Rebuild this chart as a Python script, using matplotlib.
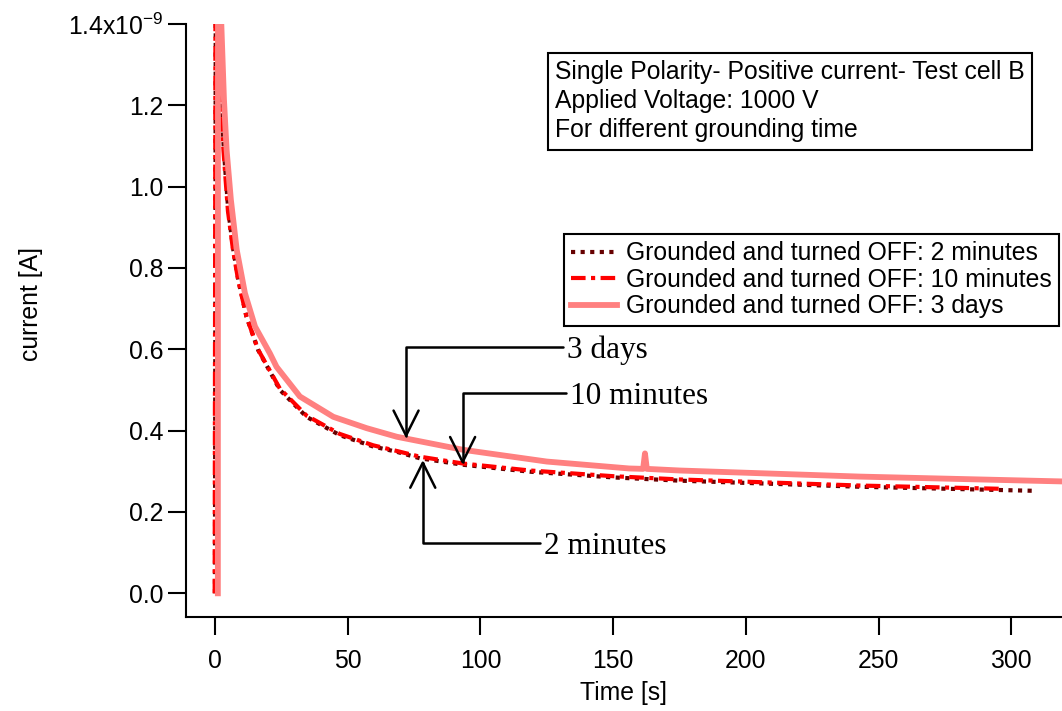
import matplotlib
matplotlib.use("Agg")
import matplotlib.pyplot as plt
from matplotlib.ticker import FuncFormatter

plt.rcParams['font.family'] = ['Liberation Sans', 'DejaVu Sans']
plt.rcParams['mathtext.default'] = 'regular'

# values, current in 1e-9 A
t_2min = [0.0, 0.3, 1.9, 2.4, 3.1, 3.8, 5.0, 6.9, 8.8, 11.9, 16.3, 24.5, 34.5, 47.0, 59.6, 68.5,
          77.2, 93.6, 118.7, 150, 175, 243, 309]
i_2min = [0.0, 1.45, 1.36, 1.22, 1.12, 1.05, 0.943, 0.845, 0.771, 0.68, 0.598, 0.50, 0.434, 0.389,
          0.361, 0.348, 0.332, 0.316, 0.299, 0.285, 0.277, 0.262, 0.252]

t_10min = [-0.1, 0.2, 1.8, 2.3, 3.0, 3.7, 4.9, 6.8, 8.7, 11.8, 16.2, 24.5, 34.5, 47.0, 59.6, 68.5,
           77.2, 93.6, 118.7, 150, 175, 243, 296]
i_10min = [0.0, 1.48, 1.34, 1.21, 1.11, 1.045, 0.94, 0.845, 0.772, 0.682, 0.600, 0.503, 0.437, 0.392,
           0.364, 0.35, 0.336, 0.319, 0.302, 0.288, 0.280, 0.265, 0.257]

t_3days = [1.1, 1.15, 1.6, 2.4, 3.4, 4.4, 6.0, 8.2, 11.3, 15.1, 20.7, 23.2, 32.0, 44.6, 57.2, 68.5,
           93.4, 125, 156, 161.3, 162.0, 162.7, 175, 243, 320]
i_3days = [0.0, 1.45, 1.5, 1.40, 1.214, 1.09, 0.968, 0.845, 0.738, 0.656, 0.59, 0.557, 0.484, 0.434,
           0.406, 0.385, 0.353, 0.324, 0.307, 0.306, 0.344, 0.306, 0.302, 0.287, 0.275]

labels = ['Grounded and turned OFF: 2 minutes',
          'Grounded and turned OFF: 10 minutes',
          'Grounded and turned OFF: 3 days']
y_ticks = [0.0, 0.2, 0.4, 0.6, 0.8, 1.0, 1.2, 1.4]

fs = 17.8

fig = plt.figure(figsize=(10.62, 7.11), dpi=100)
ax = fig.add_axes([186 / 1062, 1 - 617.3 / 711, 1 - 186 / 1062, (617.3 - 24) / 711])

ax.plot(t_2min, [v * 1e-9 for v in i_2min], color='#660000', lw=3,
        linestyle=(0, (1, 1.3)), label=labels[0])
ax.plot(t_10min, [v * 1e-9 for v in i_10min], color='#ff0000', lw=3,
        linestyle=(0, (3.5, 1.3, 1, 1.3)), label=labels[1])
ax.plot(t_3days, [v * 1e-9 for v in i_3days], color='#ff8080', lw=4.2,
        solid_joinstyle='round', label=labels[2])

ax.set_xlim(-10.9, 319.1)
ax.set_ylim(-0.059e-9, 1.4e-9)
ax.set_yticks([v * 1e-9 for v in y_ticks])


def yfmt(v, pos):
    if abs(v - 1.4e-9) < 1e-12:
        return '1.4x10$^{-9}$'
    return f'{v * 1e9:.1f}'


ax.yaxis.set_major_formatter(FuncFormatter(yfmt))
ax.set_xticks([0, 50, 100, 150, 200, 250, 300])

for s in ['top', 'right']:
    ax.spines[s].set_visible(False)
for s in ['left', 'bottom']:
    ax.spines[s].set_linewidth(1.5)
ax.tick_params(direction='out', length=13, width=1.5, labelsize=fs)
ax.tick_params(axis='x', pad=9.5)
ax.tick_params(axis='y', pad=3.5)

ax.set_xlabel('Time [s]', fontsize=fs, labelpad=6)
ax.set_ylabel('current [A]', fontsize=fs)
ax.yaxis.set_label_coords(-0.163, 0.528)

leg = ax.legend(loc='upper right', bbox_to_anchor=(1059 / 1062, 1 - 234 / 711),
                bbox_transform=fig.transFigure, fontsize=fs, frameon=True,
                fancybox=False, framealpha=1, edgecolor='black', borderaxespad=0,
                labelspacing=0.1, handlelength=1.85, handletextpad=0.35,
                borderpad=0.3)
leg.get_frame().set_linewidth(1.5)

fig.text(555 / 1062, 1 - 60 / 711,
         'Single Polarity- Positive current- Test cell B\n'
         'Applied Voltage: 1000 V\nFor different grounding time',
         fontsize=fs, va='top', ha='left', linespacing=1.27,
         bbox=dict(boxstyle='square,pad=0.3', fc='white', ec='black', lw=1.5))

# callouts
notes = [('3 days', (72.0, 0.381e-9), (132.6, 0.598e-9)),
         ('10 minutes', (93.3, 0.316e-9), (133.8, 0.485e-9)),
         ('2 minutes', (78.3, 0.328e-9), (124.0, 0.114e-9))]
for txt, tip, pos in notes:
    ax.annotate(txt, xy=tip, xytext=pos, fontsize=22.5, family='Liberation Serif',
                ha='left', va='center',
                arrowprops=dict(arrowstyle='->,head_length=1.0,head_width=0.5',
                                connectionstyle='angle,angleA=0,angleB=90,rad=0',
                                relpos=(0, 0.62), shrinkA=1, shrinkB=0,
                                color='black', lw=1.8, mutation_scale=18))

fig.savefig('out.png', dpi=100)
